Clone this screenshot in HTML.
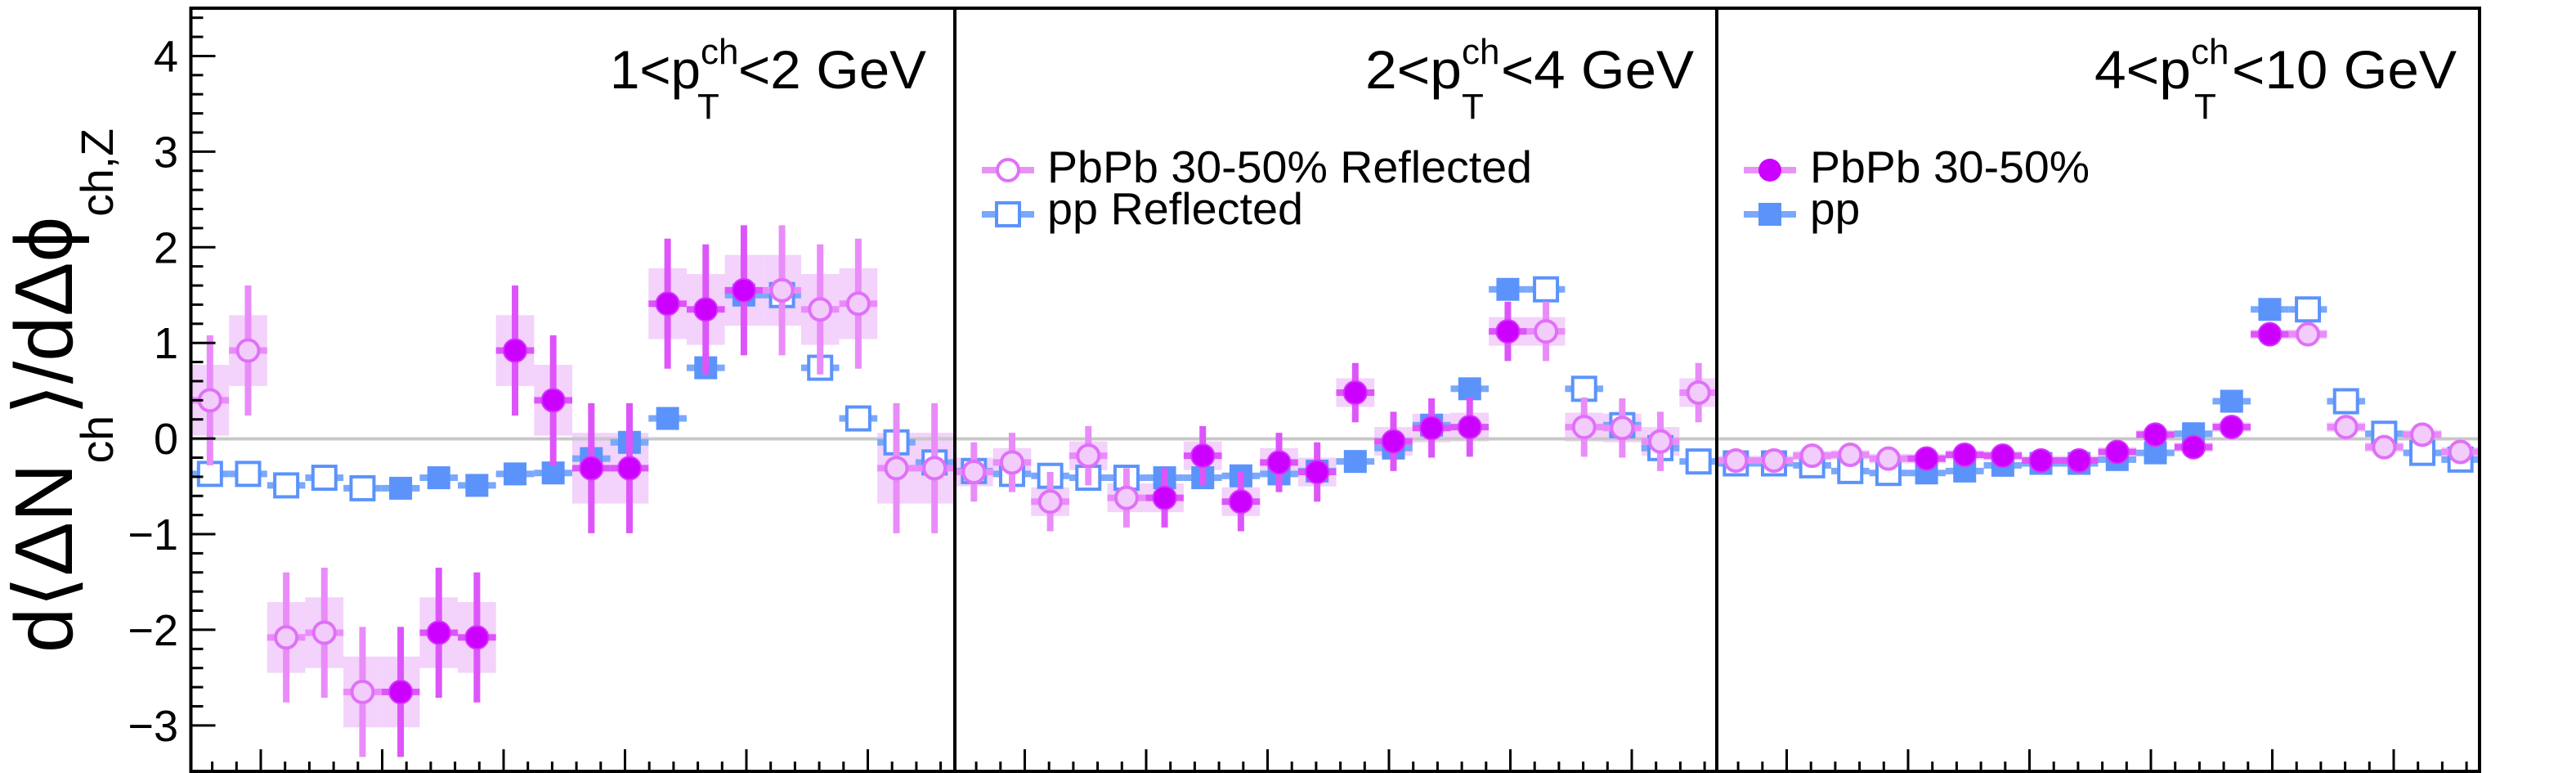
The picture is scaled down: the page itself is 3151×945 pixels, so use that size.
<!DOCTYPE html>
<html><head><meta charset="utf-8"><style>
html,body{margin:0;padding:0;background:#fff;}
svg{display:block;font-family:"Liberation Sans",Arial,sans-serif;}
</style></head><body>
<svg id="chart" width="3151" height="945" viewBox="0 0 3151 945" xmlns="http://www.w3.org/2000/svg">
<g id="boxes"></g>
<line x1="235" y1="536.5" x2="3032" y2="536.5" stroke="#c8c8c8" stroke-width="4"/>
<g id="marks"></g>
<g id="axes"></g>
<text transform="translate(88,798) rotate(-90)" font-size="100" textLength="641" lengthAdjust="spacingAndGlyphs">d⟨ΔN<tspan font-size="56" dy="50">ch</tspan><tspan dy="-50">⟩/dΔϕ</tspan><tspan font-size="56" dy="50">ch,Z</tspan></text>
<g font-size="66">
<text x="746" y="108" textLength="111" lengthAdjust="spacingAndGlyphs">1&lt;p</text>
<text x="857" y="78" font-size="44">ch</text>
<text x="853" y="145" font-size="44">T</text>
<text x="903" y="108" textLength="230" lengthAdjust="spacingAndGlyphs">&lt;2 GeV</text>
</g>
<g font-size="66">
<text x="1670" y="108" textLength="118" lengthAdjust="spacingAndGlyphs">2&lt;p</text>
<text x="1788" y="78" font-size="44">ch</text>
<text x="1788" y="145" font-size="44">T</text>
<text x="1836" y="108" textLength="236" lengthAdjust="spacingAndGlyphs">&lt;4 GeV</text>
</g>
<g font-size="66">
<text x="2562" y="108" textLength="118" lengthAdjust="spacingAndGlyphs">4&lt;p</text>
<text x="2680" y="78" font-size="44">ch</text>
<text x="2684" y="145" font-size="44">T</text>
<text x="2730" y="108" textLength="275" lengthAdjust="spacingAndGlyphs">&lt;10 GeV</text>
</g>
<g font-size="55">
<g>
<line x1="1201" y1="208" x2="1265" y2="208" stroke="#e377f5" stroke-width="8" opacity="0.8"/>
<circle cx="1233" cy="208" r="13" fill="#fff" stroke="#e070f8" stroke-width="4"/>
<text x="1281" y="223" textLength="593" lengthAdjust="spacingAndGlyphs">PbPb 30-50% Reflected</text></g>
<g>
<line x1="1201" y1="262" x2="1265" y2="262" stroke="#7aa8fb" stroke-width="8"/>
<rect x="1219" y="248" width="28" height="28" fill="#fff" stroke="#5b93fb" stroke-width="4"/>
<text x="1281" y="274" textLength="313" lengthAdjust="spacingAndGlyphs">pp Reflected</text></g>
</g>
<g font-size="55">
<g>
<line x1="2133" y1="208" x2="2197" y2="208" stroke="#e377f5" stroke-width="8" opacity="0.8"/>
<circle cx="2165" cy="208" r="14" fill="#cc00ff"/>
<text x="2214" y="223" textLength="342" lengthAdjust="spacingAndGlyphs">PbPb 30-50%</text></g>
<g>
<line x1="2133" y1="262" x2="2197" y2="262" stroke="#7aa8fb" stroke-width="8"/>
<rect x="2151" y="248" width="28" height="28" fill="#5b93fb"/>
<text x="2214" y="274">pp</text></g>
</g>
</svg>
<script>
const binIndex = [0,1,2,3,4,5,6,7,8,9,10,11,12,13,14,15,16,17,18,19];
const reflected = [1,1,1,1,1,0,0,0,0,0,0,0,0,0,0,1,1,1,1,1];
const pbpbP1 = [0.40,0.92,-2.08,-2.03,-2.65,-2.65,-2.03,-2.08,0.92,0.40,-0.31,-0.31,1.41,1.35,1.55,1.55,1.35,1.41,-0.31,-0.31];
const ppP1 = [-0.37,-0.37,-0.49,-0.41,-0.52,-0.52,-0.41,-0.49,-0.37,-0.36,-0.21,-0.04,0.21,0.74,1.50,1.50,0.74,0.21,-0.04,-0.25];
const pbpbP2 = [-0.35,-0.25,-0.66,-0.18,-0.62,-0.62,-0.18,-0.66,-0.25,-0.35,0.48,-0.03,0.11,0.12,1.12,1.12,0.12,0.11,-0.03,0.48];
const ppP2 = [-0.34,-0.37,-0.39,-0.41,-0.41,-0.41,-0.41,-0.39,-0.37,-0.34,-0.24,-0.10,0.14,0.52,1.56,1.56,0.52,0.14,-0.10,-0.24];
const pbpbP3 = [-0.23,-0.23,-0.18,-0.17,-0.21,-0.21,-0.17,-0.18,-0.23,-0.23,-0.14,0.04,-0.09,0.12,1.09,1.09,0.12,-0.09,0.04,-0.14];
const ppP3 = [-0.26,-0.26,-0.28,-0.34,-0.36,-0.36,-0.34,-0.28,-0.26,-0.26,-0.22,-0.15,0.05,0.39,1.35,1.35,0.39,0.05,-0.15,-0.22];
const statErr = [0.68,0.31,0.06];
const systErr = [0.37,0.15,0.05];
const yTicks = [-3,-2,-1,0,1,2,3,4];
const yTickLabels = ["\u22123","\u22122","\u22121","0","1","2","3","4"];

const NS = "http://www.w3.org/2000/svg";
const panelLeft = [233.5, 1168, 2100];
const panelW = 933;
const nBins = 20;
const yMin = -3.5, yMax = 4.5, yTop = 10, yBot = 945.3;
function yPix(v){ return yBot - (v - yMin) / (yMax - yMin) * (yBot - yTop); }
function xPix(p, i){ return panelLeft[p] + (i + 0.5) * panelW / nBins; }
function mk(tag, attrs, parent){
  const el = document.createElementNS(NS, tag);
  for (const k in attrs) el.setAttribute(k, attrs[k]);
  parent.appendChild(el);
  return el;
}
const boxes = document.getElementById('boxes');
const marks = document.getElementById('marks');
const axes = document.getElementById('axes');
const pbpb = [pbpbP1, pbpbP2, pbpbP3];
const pp = [ppP1, ppP2, ppP3];
const bw = panelW / nBins;

for (let p = 0; p < 3; p++) {
  for (const i of binIndex) {
    const x = xPix(p, i);
    const b = mk('rect', {x: x - bw/2, y: yPix(pbpb[p][i] + systErr[p]), width: bw, height: yPix(pbpb[p][i] - systErr[p]) - yPix(pbpb[p][i] + systErr[p]), fill: '#f2cdfb', opacity: 0.9}, boxes);
    
    
  }
  for (const i of binIndex) {
    const x = xPix(p, i);
    const y = yPix(pp[p][i]);
    const l = mk('line', {x1: x - bw/2, x2: x + bw/2, y1: y, y2: y, stroke: '#7aa8fb', 'stroke-width': 8}, marks);
    
    
    const open = reflected[i] === 1;
    const s = mk('rect', {x: x - 14, y: y - 14, width: 28, height: 28, fill: open ? '#fff' : '#5b93fb', stroke: '#5b93fb', 'stroke-width': open ? 4 : 0}, marks);
    
    
  }
  for (const i of binIndex) {
    const x = xPix(p, i);
    const v = pbpb[p][i];
    const y = yPix(v);
    const open = reflected[i] === 1;
    const e = mk('line', {x1: x, x2: x, y1: yPix(v + statErr[p]), y2: yPix(v - statErr[p]), stroke: open ? '#e98cf9' : '#dd55fa', 'stroke-width': 8}, marks);
    
    
    const h = mk('line', {x1: x - bw/2, x2: x + bw/2, y1: y, y2: y, stroke: open ? '#e98cf9' : '#dd55fa', 'stroke-width': 8}, marks);
    
    
    const c = mk('circle', {cx: x, cy: y, r: open ? 13 : 14, fill: open ? '#f2cdfb' : '#cc00ff', stroke: open ? '#e070f8' : '#d533fd', 'stroke-width': open ? 4 : 2}, marks);
    
    
  }
}

const fr = mk('rect', {x: 233.5, y: 10, width: 3033 - 233.5, height: 933, fill: 'none', stroke: '#000', 'stroke-width': 4}, axes);


for (const xd of [1168, 2100]) {
  const d = mk('line', {x1: xd, x2: xd, y1: 10, y2: 945, stroke: '#000', 'stroke-width': 4}, axes);
  
  
}
for (let k = 0; k < 40; k++) {
  const vv = Math.round((yMin + 0.5 + k * 0.2) * 10) / 10;
  if (vv > 4.5) break;
  const y = yPix(vv);
  const major = Math.abs(vv - Math.round(vv)) < 0.01;
  const t = mk('line', {x1: 233.5, x2: 233.5 + (major ? 30 : 15), y1: y, y2: y, stroke: '#000', 'stroke-width': 3}, axes);
  
  
}
yTicks.forEach((v, j) => {
  const t = mk('text', {x: 218, y: yPix(v) + 19, 'text-anchor': 'end', 'font-size': 54}, axes);
  t.textContent = yTickLabels[j];
  
  
});
for (let p = 0; p < 3; p++) {
  for (let k = -2; k < 29; k++) {
    const x = panelLeft[p] + 85.5 + k * 29.7;
    if (x <= panelLeft[p] + 3 || x >= panelLeft[p] + panelW - 3) continue;
    const major = ((k % 5) + 5) % 5 === 0;
    const t = mk('line', {x1: x, x2: x, y1: 945, y2: 945 - (major ? 29 : 14), stroke: '#000', 'stroke-width': 3}, axes);
    
    
  }
}
</script>
</body></html>
